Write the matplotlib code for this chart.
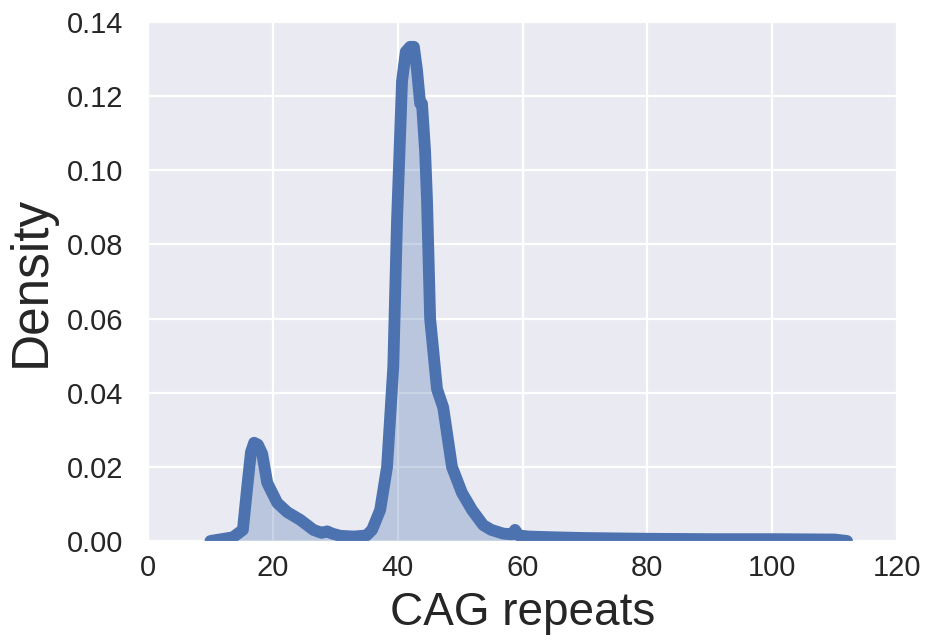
import matplotlib
matplotlib.use("Agg")
import matplotlib.pyplot as plt
import seaborn as sns

sns.set_style("darkgrid")
plt.rcParams['font.family'] = ['Liberation Sans', 'DejaVu Sans']

cag_repeats = [10, 13.6, 15.2, 15.9, 16.5, 17.0, 17.6, 18.3, 19.1, 20.7, 22.3, 24.4,
               26.5, 27.8, 28.7, 29.5, 30.8, 33.0, 35.0, 35.9, 37.2, 38.3, 39.3, 39.9,
               40.7, 41.3, 42.0, 42.6, 43.1, 43.6, 43.9, 44.4, 44.7, 45.2, 46.3, 47.3,
               48.7, 50.3, 51.9, 53.7, 55.0, 56.9, 58.3, 58.8, 59.4, 61, 65, 70, 80,
               90, 100, 110, 112]
density = [0.0, 0.001, 0.003, 0.0146, 0.024, 0.0265, 0.026, 0.0235, 0.0157, 0.0103,
           0.0078, 0.0057, 0.003, 0.0022, 0.0026, 0.002, 0.0014, 0.0012, 0.0015, 0.003,
           0.0084, 0.020, 0.047, 0.0866, 0.124, 0.132, 0.1333, 0.1333, 0.127, 0.118,
           0.118, 0.105, 0.092, 0.060, 0.041, 0.036, 0.020, 0.013, 0.0084, 0.0043,
           0.003, 0.002, 0.0018, 0.003, 0.0015, 0.0012, 0.001, 0.0008, 0.0006, 0.0005,
           0.0005, 0.0004, 0.0]

x_ticks = [0, 20, 40, 60, 80, 100, 120]
y_ticks = [0.00, 0.02, 0.04, 0.06, 0.08, 0.10, 0.12, 0.14]

color = "#4C72B0"

fig = plt.figure(figsize=(9.3, 6.42), dpi=100)
ax = fig.add_axes([148/930, 1-541/642, (897-148)/930, (541-22)/642])
ax.grid(True, color="white", linewidth=1.6)
ax.fill_between(cag_repeats, density, color=color, alpha=0.3, linewidth=0)
ax.plot(cag_repeats, density, color=color, linewidth=8.5, solid_joinstyle='round',
        solid_capstyle='round')
ax.set_xlim(0, 120)
ax.set_ylim(0, 0.14)
ax.set_xticks(x_ticks)
ax.set_yticks(y_ticks)
ax.set_yticklabels([f"{v:.2f}" for v in y_ticks])
ax.tick_params(labelsize=21, colors="#262626")
ax.tick_params(axis='y', pad=14)
ax.tick_params(axis='x', pad=6)
ax.set_xlabel("CAG repeats", fontsize=33, color="#262626", labelpad=6)
ax.set_ylabel("Density", fontsize=37, color="#262626", labelpad=8)
fig.savefig("out.png", dpi=100)
